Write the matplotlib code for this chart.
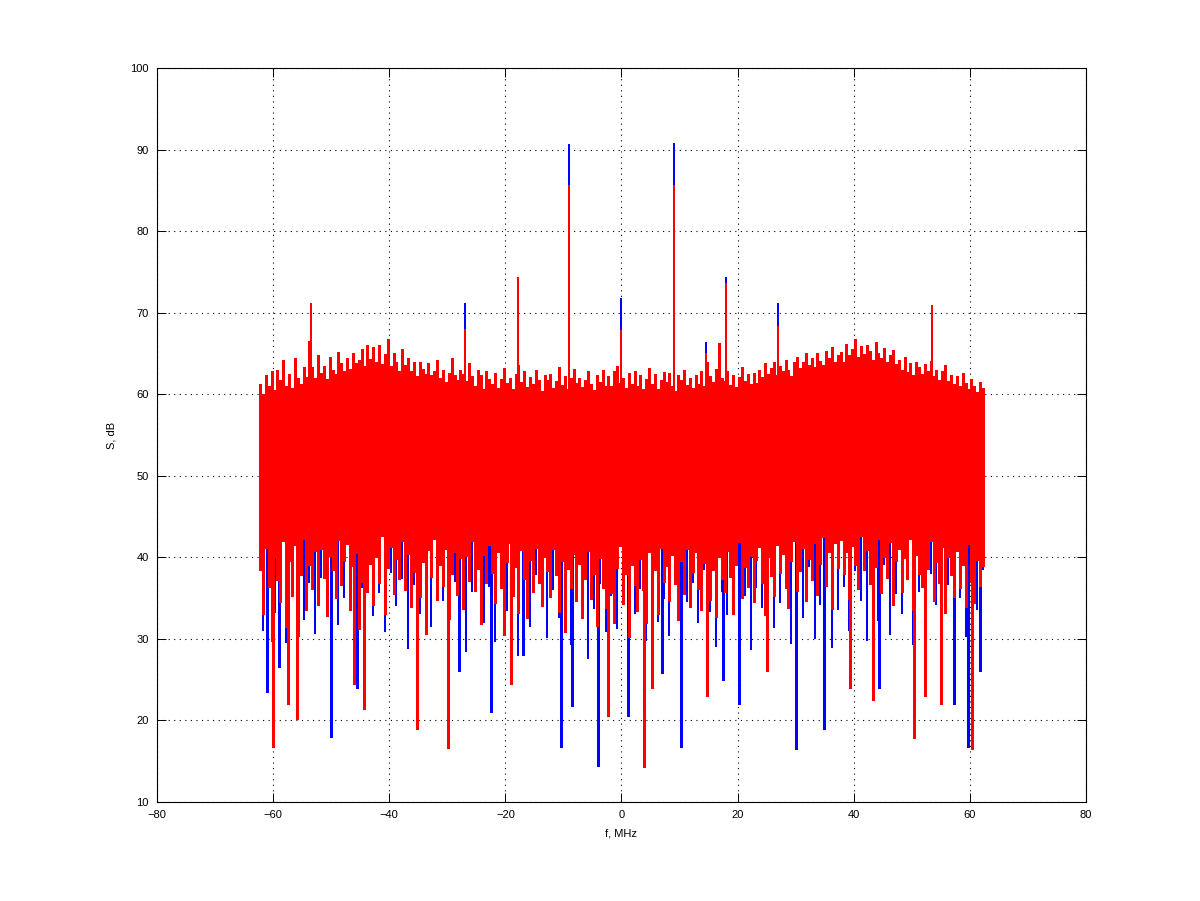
import numpy as np
import matplotlib
matplotlib.use('Agg')
import matplotlib.pyplot as plt

# two spectra, red drawn over blue (dB)
# dense noise band: solid core edges every 5 MHz
core_f = [-62.5, -57.5, -52.5, -47.5, -42.5, -37.5, -32.5, -27.5, -22.5, -17.5, -12.5, -7.5, -2.5,
          2.5, 7.5, 12.5, 17.5, 22.5, 27.5, 32.5, 37.5, 42.5, 47.5, 52.5, 57.5, 62.5]
core_top = [58.5, 59.0, 59.5, 60.5, 61.0, 60.5, 60.0, 59.5, 59.0, 58.8, 58.8, 58.8, 58.8,
            58.8, 58.8, 59.0, 59.0, 59.3, 60.0, 60.8, 61.5, 61.5, 60.8, 60.0, 59.2, 58.5]
core_bot = [44.5, 44.8, 45.0, 45.5, 45.8, 45.5, 45.0, 44.8, 44.5, 44.5, 44.2, 44.0, 44.0,
            44.0, 44.2, 44.5, 44.5, 44.7, 45.0, 45.5, 46.0, 46.2, 45.6, 45.0, 44.7, 44.5]

# red strokes, one per 0.5 MHz bin: top and bottom of each bin
red_f = np.arange(-62.25, 62.5, 0.5)
red_top = [
    61.2, 60.0, 62.4, 61.0, 62.8, 60.5, 63.0, 61.8, 64.2, 61.0,
    62.5, 60.8, 64.5, 62.0, 61.2, 63.3, 62.1, 66.5, 63.4, 62.0,
    64.8, 62.6, 63.5, 61.9, 64.6, 63.0, 62.5, 65.2, 63.8, 62.9,
    64.4, 63.1, 65.0, 63.8, 64.2, 65.6, 63.5, 66.0, 64.3, 65.8,
    64.0, 66.0, 63.7, 64.9, 66.8, 63.5, 65.1, 64.0, 62.9, 65.5,
    63.6, 64.4, 62.8, 63.9, 62.2, 64.0, 63.1, 62.5, 63.8, 62.4,
    62.9, 64.2, 62.0, 63.0, 61.5, 62.6, 64.5, 62.3, 61.8, 63.0,
    62.5, 61.6, 63.8, 62.2, 61.0, 63.0, 62.4, 60.6, 62.8, 61.9,
    61.2, 62.6, 60.8, 61.9, 63.2, 61.4, 62.0, 60.7, 62.5, 63.6,
    61.5, 62.8, 60.9, 62.1, 61.3, 63.0, 61.7, 60.4, 62.3, 61.8,
    62.5, 60.8, 61.6, 63.4, 61.1, 62.2, 60.6, 62.0, 63.1, 61.4,
    62.0, 60.9, 61.8, 62.9, 61.2, 60.5, 62.4, 61.5, 63.0, 61.0,
    62.2, 61.0, 62.8, 63.5, 61.4, 62.0, 60.8, 62.6, 61.3, 62.9,
    61.0, 62.4, 60.6, 61.9, 63.2, 61.2, 62.5, 60.7, 61.8, 62.7,
    61.5, 62.6, 61.0, 60.4, 62.3, 61.7, 63.0, 61.1, 62.0, 60.8,
    62.4, 61.3, 62.9, 61.0, 64.0, 62.2, 61.5, 63.1, 66.3, 62.0,
    61.6, 62.8, 61.1, 62.4, 60.9, 62.1, 63.4, 61.6, 62.5, 61.2,
    62.6, 61.4, 63.0, 62.1, 63.8, 62.5, 63.2, 64.0, 62.4, 63.5,
    62.8, 64.2, 63.0, 62.2, 63.9, 64.6, 63.2, 64.0, 65.1, 63.6,
    64.5, 63.4, 65.0, 64.1, 63.6, 65.3, 64.4, 65.8, 63.9, 64.8,
    65.2, 64.0, 66.1, 64.8, 65.5, 66.8, 64.6, 65.9, 64.9, 66.0,
    65.3, 64.2, 66.4, 65.0, 64.5, 65.7, 63.9, 64.8, 65.4, 63.7,
    64.2, 63.0, 64.6, 62.7, 63.8, 62.4, 64.0, 63.3, 62.5, 63.7,
    62.8, 64.1, 62.2, 63.0, 61.8, 62.9, 63.6, 61.6, 62.4, 61.3,
    62.2, 61.0, 62.6, 61.4, 60.6, 61.9, 61.0, 60.3, 61.5, 60.8]
red_bot = [
    38.5, 33.0, 41.2, 36.4, 29.8, 40.1, 37.2, 34.5, 42.0, 31.5,
    39.6, 35.2, 41.5, 30.4, 37.8, 42.3, 33.6, 39.0, 36.1, 40.8,
    34.2, 41.0, 37.5, 32.8, 40.2, 38.4, 35.0, 42.1, 36.6, 39.5,
    41.6, 33.5, 38.9, 40.5, 31.2, 37.0, 42.4, 35.8, 39.2, 34.1,
    40.0, 36.8, 42.6, 33.0, 38.7, 41.3, 35.5, 39.8, 37.4, 42.0,
    36.0, 40.4, 33.9, 38.2, 41.7, 35.1, 39.4, 30.6, 40.9, 37.6,
    42.2, 34.8, 39.1, 36.5, 41.0, 32.4, 38.0, 40.7, 35.4, 39.9,
    33.7, 40.2, 37.1, 42.0, 35.9, 38.6, 31.8, 40.3, 36.8, 41.5,
    38.1, 34.4, 40.6, 36.2, 30.5, 39.4, 41.8, 35.3, 38.8, 33.2,
    40.9, 37.3, 32.6, 39.7, 35.8, 41.2, 36.9, 34.0, 40.0, 38.3,
    35.1, 41.0, 37.8, 33.3, 39.5, 30.8, 38.6, 36.2, 40.4, 34.7,
    39.2, 32.5, 37.4, 40.8, 34.9, 38.0, 31.6, 39.9, 36.3, 33.8,
    40.5, 35.6, 32.0, 38.7, 41.4, 34.3, 37.9, 30.2, 39.1, 36.6,
    33.4, 39.8, 36.0, 31.9, 40.6, 35.2, 38.4, 33.0, 41.2, 37.0,
    38.9, 34.6, 40.3, 36.7, 32.3, 39.6, 35.5, 41.0, 33.9, 38.2,
    40.7, 36.1, 33.5, 39.3, 41.6, 34.8, 38.5, 32.7, 40.1, 37.4,
    35.7, 40.8, 37.6, 33.1, 39.0, 41.9, 35.0, 38.8, 36.4, 40.2,
    34.5, 39.7, 41.3, 36.8, 32.9, 40.0, 37.7, 35.3, 41.5, 38.1,
    40.4, 36.3, 33.8, 39.5, 42.0, 35.9, 38.3, 41.1, 34.6, 39.8,
    37.2, 41.7, 35.4, 39.2, 42.5, 36.5, 40.6, 33.7, 41.8, 38.7,
    42.1, 37.9, 40.7, 34.9, 41.4, 39.0, 36.1, 42.6, 38.4, 40.9,
    36.7, 41.2, 38.8, 42.3, 35.6, 40.1, 37.5, 41.9, 34.2, 39.6,
    41.0, 35.8, 39.9, 37.3, 42.2, 33.6, 40.3, 38.0, 36.4, 41.5,
    38.6, 42.0, 34.7, 39.4, 36.9, 41.3, 33.2, 40.0, 37.8, 35.1,
    40.8, 36.2, 39.1, 33.9, 41.6, 37.0, 34.4, 39.7, 36.5, 38.9]

# blue strokes below the red band, one per 1 MHz
blue_f = np.arange(-61.75, 62.5, 1.0)
blue_bot = [
    31.0, 36.5, 33.2, 38.0, 29.5, 35.4, 39.1, 32.3, 36.8, 30.6,
    37.5, 33.9, 40.2, 31.7, 35.0, 38.6, 29.9, 36.2, 39.5, 32.8,
    35.6, 30.8, 38.1, 34.0, 37.3, 28.7, 36.6, 33.1, 39.0, 31.4,
    38.4, 34.7, 30.3, 37.0, 33.6, 28.4, 35.8, 39.3, 32.0, 36.4,
    29.6, 36.9, 33.4, 38.7, 27.9, 35.1, 31.5, 37.8, 34.3, 30.1,
    36.0, 32.6, 38.9, 29.2, 34.8, 37.4, 27.5, 33.7, 36.7, 30.9,
    35.3, 31.2, 37.6, 28.1, 33.0, 36.1, 29.8, 38.2, 32.1, 34.9,
    30.4, 37.1, 28.8, 34.5, 36.8, 31.9, 38.5, 33.3, 29.0, 35.7,
    32.9, 37.9, 30.7, 35.2, 28.6, 36.3, 33.8, 39.4, 31.3, 34.4,
    37.2, 29.4, 35.9, 32.5, 38.8, 30.0, 34.1, 36.9, 28.9, 33.5,
    36.4, 31.0, 38.3, 34.6, 29.7, 37.7, 32.2, 39.1, 30.5, 35.5,
    33.1, 37.5, 29.3, 35.8, 31.8, 38.0, 34.2, 28.5, 36.6, 32.4,
    35.0, 30.2, 37.3, 33.6, 38.5]

# narrow spectral lines
red_peak_f = [-53.5, -26.9, -17.8, -9.0, 0.0, 9.0, 14.5, 18.0, 27.0, 53.5]
red_peak_db = [71.2, 68.0, 74.4, 85.6, 67.9, 85.6, 65.0, 73.6, 68.4, 71.0]
blue_peak_f = [-26.9, -9.0, 0.0, 9.0, 14.5, 18.0, 27.0]
blue_peak_db = [71.2, 90.7, 71.8, 90.8, 66.4, 74.4, 71.2]

# deepest dips
red_dip_f = [-60.0, -57.5, -55.9, -46.0, -44.4, -35.2, -29.9, -19.0, -2.3, 3.9,
             5.2, 14.7, 25.0, 39.3, 43.3, 50.3, 52.3, 55.0, 60.4]
red_dip_db = [16.7, 22.0, 20.2, 24.5, 21.4, 19.0, 16.6, 24.5, 20.5, 14.3,
              24.0, 23.0, 26.0, 24.0, 22.5, 17.8, 23.0, 22.0, 16.5]
blue_dip_f = [-61.0, -59.0, -50.1, -45.5, -28.0, -22.5, -17.0, -10.5, -8.5, -4.1, 1.2,
              7.0, 10.3, 17.5, 20.3, 30.0, 34.8, 44.3, 57.2, 59.7, 61.8]
blue_dip_db = [23.5, 26.5, 18.0, 24.0, 26.0, 21.0, 28.0, 16.8, 21.8, 14.4, 20.6,
               25.8, 16.7, 25.0, 22.0, 16.5, 19.0, 24.0, 22.0, 16.7, 26.0]

plt.rcParams['font.family'] = ['Liberation Sans', 'DejaVu Sans']
fig = plt.figure(figsize=(12, 9.01), dpi=100)
ax = fig.add_axes([0.1308, 0.1099, 0.7742, 0.8146])

# blue first, stays under the red band
ax.vlines(blue_f, blue_bot, 45, color='blue', linewidth=1.1, antialiased=False)
ax.vlines(blue_dip_f, blue_dip_db, 45, color='blue', linewidth=1.0, antialiased=False)
ax.vlines(blue_peak_f, 55, blue_peak_db, color='blue', linewidth=1.1, antialiased=False)

# red on top
ax.vlines(red_f, 50, red_top, color='red', linewidth=2.0, antialiased=False)
ax.vlines(red_f, red_bot, 50, color='red', linewidth=1.8, antialiased=False)
ax.vlines(red_dip_f, red_dip_db, 50, color='red', linewidth=1.0, antialiased=False)
ax.vlines(red_peak_f, 55, red_peak_db, color='red', linewidth=1.1, antialiased=False)
ax.fill_between(core_f, core_bot, core_top, color='red', linewidth=0, antialiased=False)

ax.set_xlim(-80, 80)
ax.set_ylim(10, 100)
ax.set_xticks(range(-80, 81, 20))
ax.set_yticks(range(10, 101, 10))
ax.set_axisbelow(True)
ax.grid(True, color='black', linestyle=(0, (1, 4)), linewidth=0.8)
ax.tick_params(direction='in', length=6.7, width=0.7, top=True, right=True,
               labelsize=8, pad=6)
for s in ax.spines.values():
    s.set_linewidth(0.8)

ax.set_xlabel('f, MHz', fontsize=8, labelpad=6)
ax.set_ylabel('S, dB', fontsize=8, labelpad=10)

fig.savefig('out.png', dpi=100)
